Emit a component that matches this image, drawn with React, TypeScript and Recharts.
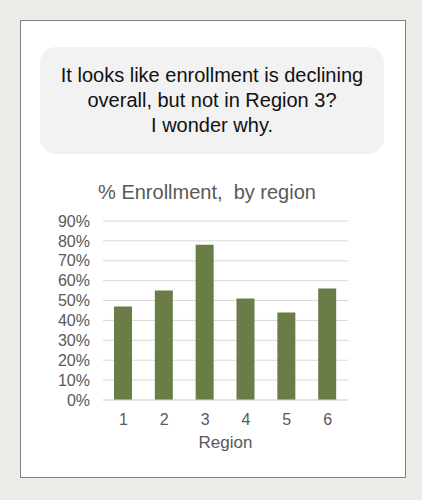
import { BarChart, Bar, XAxis, YAxis, CartesianGrid } from 'recharts';

const regions = ['1', '2', '3', '4', '5', '6'];
const enrollment = [47, 55, 78, 51, 44, 56];
const yTicks = [0, 10, 20, 30, 40, 50, 60, 70, 80, 90];

const data = regions.map((region, i) => ({ region, value: enrollment[i] }));

const grey = '#595959';

export default function App() {
  return (
    <div
      style={{
        position: 'absolute',
        left: 0,
        top: 0,
        width: 422,
        height: 500,
        background: '#eeece8',
        fontFamily: '"Liberation Sans", Arial, sans-serif',
      }}
    >
      <div
        style={{
          position: 'absolute',
          left: 20,
          top: 20,
          width: 384,
          height: 456,
          background: '#fff',
          border: '1px solid #808080',
        }}
      />
      <div
        style={{
          position: 'absolute',
          left: 40,
          top: 47,
          width: 344,
          height: 107,
          background: '#f2f2f2',
          borderRadius: 16,
          display: 'flex',
          alignItems: 'center',
          justifyContent: 'center',
          textAlign: 'center',
          fontSize: 20,
          lineHeight: '25px',
          color: '#111',
        }}
      >
        <div>
          It looks like enrollment is declining
          <br />
          overall, but not in Region 3?
          <br />I wonder why.
        </div>
      </div>
      <div
        style={{
          position: 'absolute',
          left: 14,
          top: 181,
          width: 386,
          textAlign: 'center',
          fontSize: 20,
          color: grey,
        }}
      >
        % Enrollment,&nbsp; by region
      </div>
      <div style={{ position: 'absolute', left: 40, top: 200 }}>
        <BarChart
          width={330}
          height={260}
          data={data}
          margin={{ top: 21, right: 22, left: 0, bottom: 0 }}
        >
          <CartesianGrid vertical={false} stroke="#d9d9d9" />
          <XAxis
            dataKey="region"
            height={60}
            tickLine={false}
            tickSize={0}
            tickMargin={14}
            axisLine={{ stroke: '#d9d9d9' }}
            tick={{ fontSize: 16, fill: grey }}
            label={{ value: 'Region', position: 'insideBottom', offset: 12, fontSize: 17, fill: grey }}
          />
          <YAxis
            width={63}
            domain={[0, 90]}
            ticks={yTicks}
            interval={0}
            axisLine={false}
            tickLine={false}
            tickSize={0}
            tickMargin={13}
            tick={{ fontSize: 16, fill: grey }}
            tickFormatter={(v: number) => `${v}%`}
          />
          <Bar dataKey="value" fill="#6a7d46" barSize={18} isAnimationActive={false} />
        </BarChart>
      </div>
    </div>
  );
}
